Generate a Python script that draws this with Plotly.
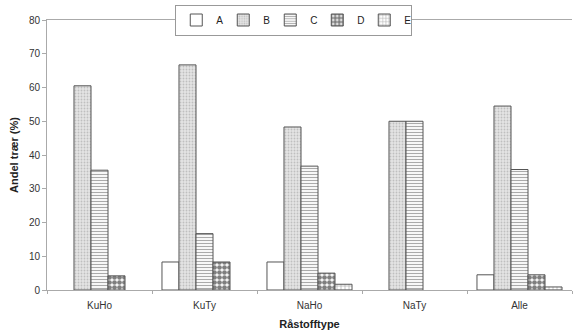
import plotly.graph_objects as go

categories = ["KuHo", "KuTy", "NaHo", "NaTy", "Alle"]
series_names = ["A", "B", "C", "D", "E"]
A = [0, 8.3, 8.3, 0, 4.5]
B = [60.5, 66.7, 48.3, 50, 54.5]
C = [35.5, 16.7, 36.7, 50, 35.7]
D = [4.2, 8.3, 5.0, 0, 4.5]
E = [0, 0, 1.7, 0, 0.9]
values = [A, B, C, D, E]
y_ticks = [0, 10, 20, 30, 40, 50, 60, 70, 80]

patterns = [
    dict(shape="", bgcolor="white"),
    dict(shape=".", fgcolor="#999999", bgcolor="#e4e4e4", size=3, solidity=0.3),
    dict(shape="-", fgcolor="#555555", bgcolor="white", size=3, solidity=0.4),
    dict(shape=".", fgcolor="black", bgcolor="white", size=5, solidity=0.7),
    dict(shape="+", fgcolor="#666666", bgcolor="white", size=4, solidity=0.35),
]

fig = go.Figure()
for name, vals, pat in zip(series_names, values, patterns):
    fig.add_trace(go.Bar(
        x=categories, y=[v if v > 0 else None for v in vals], name=name,
        marker=dict(color="white", pattern=pat,
                    line=dict(color="#555555", width=1)),
    ))

fig.update_layout(
    width=573, height=332,
    margin=dict(l=47, r=1, t=20, b=42),
    barmode="group", bargap=0.19, bargroupgap=0,
    plot_bgcolor="white", paper_bgcolor="white",
    font=dict(family="Liberation Sans, Arial, sans-serif", size=10, color="#333333"),
    showlegend=True,
    legend=dict(orientation="h", x=0.47, xanchor="center", y=1.0, yanchor="middle",
                bgcolor="white", bordercolor="#999999", borderwidth=1,
                font=dict(size=10, color="#222222"), itemwidth=30,
                entrywidth=2, entrywidthmode="pixels",
                tracegroupgap=0, traceorder="normal"),
    xaxis=dict(showline=True, linecolor="#aaaaaa", linewidth=1, mirror=True,
               ticks="outside", tickson="boundaries", ticklen=3, tickcolor="#aaaaaa",
               ticklabelstandoff=6,
               title=dict(text="<b>Råstofftype</b>", font=dict(size=11, color="#222222"), standoff=10)),
    yaxis=dict(range=[0, 80], tickvals=y_ticks, showgrid=False, zeroline=False,
               showline=True, linecolor="#aaaaaa", linewidth=1,
               ticks="outside", ticklen=4, tickcolor="#aaaaaa",
               title=dict(text="<b>Andel trær (%)</b>", font=dict(size=11, color="#222222"), standoff=8)),
)

fig.write_html("out.html")
